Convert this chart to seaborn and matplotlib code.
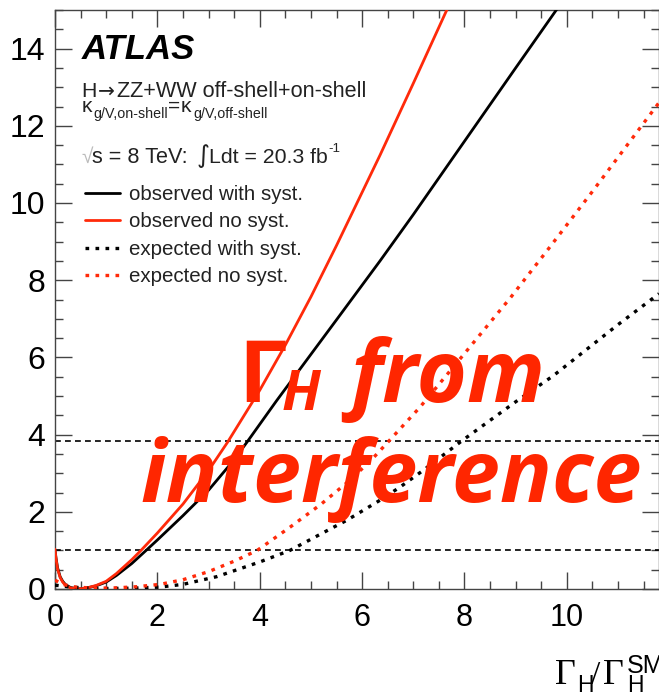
import matplotlib
matplotlib.use("Agg")
import matplotlib.pyplot as plt
import seaborn as sns
import pandas as pd
from matplotlib.ticker import MultipleLocator
from matplotlib.lines import Line2D

# ---------------- data ----------------
x_obs_syst = [0, 0.02, 0.05, 0.1, 0.15, 0.2, 0.3, 0.45, 0.6, 0.8, 1.0, 1.2, 1.5, 1.78, 2.0, 2.5,
              3.0, 3.5, 3.77, 4.33, 5.0, 5.57, 6.35, 7.0, 8.0, 9.0, 9.82, 10.0]
y_obs_syst = [1.0, 0.8, 0.55, 0.32, 0.2, 0.12, 0.04, 0.0, 0.02, 0.08, 0.18, 0.35, 0.66, 1.0, 1.27, 1.9,
              2.56, 3.35, 3.84, 4.88, 6.08, 7.1, 8.5, 9.7, 11.6, 13.5, 15.05, 15.4]

x_obs_nosyst = [0, 0.02, 0.05, 0.1, 0.15, 0.2, 0.3, 0.45, 0.6, 0.8, 1.0, 1.2, 1.5, 1.68, 2.0, 2.5,
                3.0, 3.37, 4.0, 4.5, 5.0, 5.5, 6.35, 7.0, 7.63, 7.8]
y_obs_nosyst = [1.03, 0.78, 0.52, 0.3, 0.18, 0.1, 0.03, 0.0, 0.02, 0.09, 0.2, 0.4, 0.76, 1.0, 1.45, 2.2,
                3.07, 3.8, 5.15, 6.32, 7.57, 8.9, 11.24, 13.1, 14.93, 15.4]

x_exp_syst = [0, 0.3, 0.8, 1.5, 2.05, 2.5, 3.16, 4.0, 4.59, 5.37, 5.7, 6.35, 6.74, 7.19, 7.95,
              9.0, 9.73, 11.0, 11.8]
y_exp_syst = [0.1, 0.05, 0.01, 0.02, 0.05, 0.12, 0.32, 0.7, 1.0, 1.55, 1.78, 2.3, 2.64, 3.07, 3.84,
              4.85, 5.52, 6.85, 7.65]

x_exp_nosyst = [0, 0.15, 0.4, 0.8, 1.2, 1.6, 2.05, 2.5, 3.0, 3.5, 3.95, 4.59, 5.2, 5.7, 6.15,
                6.5, 7.13, 8.0, 8.9, 9.61, 10.5, 11.8]
y_exp_nosyst = [0.23, 0.12, 0.05, 0.02, 0.03, 0.06, 0.12, 0.24, 0.45, 0.72, 1.0, 1.6, 2.2, 2.75, 3.3,
                3.8, 4.71, 6.1, 7.55, 8.76, 10.3, 12.6]

hlines_y = [1.0, 3.84]

labels = ["observed with syst.", "observed no syst.", "expected with syst.", "expected no syst."]
x_ticks = [0, 2, 4, 6, 8, 10]
y_ticks = [0, 2, 4, 6, 8, 10, 12, 14]

RED = "#ff2a0a"
OVER = "#ff2600"
TXT = "#222222"

# ---------------- figure ----------------
sns.set_theme(style="ticks")
plt.rcParams["font.family"] = ["Liberation Sans", "DejaVu Sans"]

W, H = 659, 694
fig = plt.figure(figsize=(W / 100, H / 100), dpi=100)
fig.patch.set_facecolor("white")
ax = fig.add_axes([55 / W, 1 - 589 / H, (W - 55) / W, (589 - 10) / H])
ax.set_facecolor("white")


def ftext(px, py, s, **kw):
    """Place text at pixel position (from top-left), baseline aligned."""
    kw.setdefault("va", "baseline")
    return fig.text(px / W, 1 - py / H, s, **kw)


df = pd.concat([
    pd.DataFrame({"x": x_obs_syst, "y": y_obs_syst, "curve": labels[0]}),
    pd.DataFrame({"x": x_obs_nosyst, "y": y_obs_nosyst, "curve": labels[1]}),
    pd.DataFrame({"x": x_exp_syst, "y": y_exp_syst, "curve": labels[2]}),
    pd.DataFrame({"x": x_exp_nosyst, "y": y_exp_nosyst, "curve": labels[3]}),
])

styles = {
    labels[0]: dict(color="black", lw=2.0, ls="-"),
    labels[1]: dict(color=RED, lw=2.0, ls="-"),
    labels[2]: dict(color="black", lw=2.4, ls=(0, (1.1, 1.9))),
    labels[3]: dict(color=RED, lw=2.4, ls=(0, (1.1, 1.9))),
}

for y0 in hlines_y:
    ax.axhline(y0, color="black", lw=1.2, ls=(0, (3.5, 2.5)), zorder=1)

for lab in labels:
    st = styles[lab]
    sns.lineplot(data=df[df["curve"] == lab], x="x", y="y", ax=ax, sort=False,
                 estimator=None, color=st["color"], linewidth=st["lw"],
                 linestyle=st["ls"], zorder=3)

ax.set_xlim(0, 11.8)
ax.set_ylim(0, 15)
ax.set_xticks(x_ticks)
ax.set_yticks(y_ticks)
ax.xaxis.set_minor_locator(MultipleLocator(0.5))
ax.yaxis.set_minor_locator(MultipleLocator(0.5))
ax.tick_params(which="both", direction="in", top=True, right=True, color="#444444", width=1.0)
ax.tick_params(which="major", length=12)
ax.tick_params(which="minor", length=6)
ax.tick_params(axis="x", which="major", labelsize=22, pad=10, labelcolor="black")
ax.tick_params(axis="y", which="major", labelsize=23, pad=7, labelcolor="black")
for sp in ax.spines.values():
    sp.set_color("#444444")
    sp.set_linewidth(1.0)
    sp.set_visible(True)
ax.set_xlabel("")
ax.set_ylabel("")

# legend
handles = [Line2D([], [], color=styles[l]["color"], lw=styles[l]["lw"], ls=styles[l]["ls"]) for l in labels]
leg = ax.legend(handles, labels, loc="upper left", bbox_to_anchor=(85 / W, 1 - 185 / H),
                bbox_transform=fig.transFigure, frameon=False, fontsize=14.8,
                handlelength=1.7, handletextpad=0.42, labelspacing=0.41, borderpad=0, borderaxespad=0)
for t in leg.get_texts():
    t.set_color(TXT)

# header texts
ftext(82, 59, "ATLAS", fontsize=25, weight="bold", style="italic", color="black")
ftext(81, 97, "H", fontsize=15.3, color=TXT)
ftext(98, 97, "\u2192", fontsize=14.5, color=TXT, family="DejaVu Sans")
ftext(117, 97, "ZZ+WW off-shell+on-shell", fontsize=15.6, color=TXT)
ftext(82, 112, "\u03ba", fontsize=15, color=TXT)
ftext(93, 118, "g/V,on-shell", fontsize=10.3, color=TXT)
ftext(168, 112, "=", fontsize=15, color=TXT)
ftext(181, 112, "\u03ba", fontsize=15, color=TXT)
ftext(193, 118, "g/V,off-shell", fontsize=10.3, color=TXT)
ftext(81, 163, "\u221a", fontsize=15, color="#bbbbbb")
ftext(92, 163, "s = 8 TeV:", fontsize=15.6, color=TXT)
ftext(197, 163, "\u222b", fontsize=18, color=TXT, family="DejaVu Sans")
ftext(209, 163, "Ldt = 20.3 fb", fontsize=15.3, color=TXT)
ftext(328, 152, "-1", fontsize=9.5, color=TXT)

# x-axis title:  Gamma_H / Gamma_H^SM
ftext(555, 684, "\u0393", fontsize=26, family="Liberation Serif", color="black")
ftext(577, 692, "H", fontsize=16.5, color="black")
ftext(591, 684, "/", fontsize=24, family="Liberation Serif", color="black")
ftext(603, 684, "\u0393", fontsize=26, family="Liberation Serif", color="black")
ftext(627, 673, "SM", fontsize=18, color="black")
ftext(627, 692, "H", fontsize=16.5, color="black")

# overlay text
ftext(238, 402, "\u0393", fontsize=62, weight="bold", color=OVER, family="Open Sans", zorder=10)
ftext(282, 410, "H", fontsize=40, weight="bold", style="italic", color=OVER, family="Open Sans", zorder=10)
ftext(350, 402, "from", fontsize=62, weight="bold", style="italic", color=OVER, family="Open Sans", zorder=10)
ftext(140, 502, "interference", fontsize=62, weight="bold", style="italic", color=OVER,
      family="Open Sans", zorder=10)

fig.savefig("out.png", dpi=100, facecolor="white")
